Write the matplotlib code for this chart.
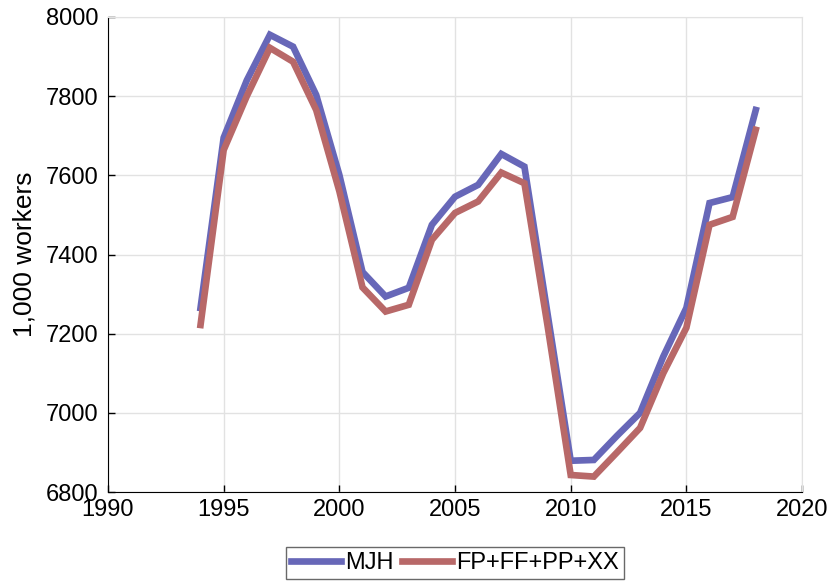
"""
Число работников по годам: MJH и FP+FF+PP+XX.
"""

import matplotlib.pyplot as plt

years = list(range(1994, 2019))
mjh = [7265, 7695, 7840, 7955, 7925, 7803, 7601, 7356, 7294, 7316,
       7475, 7546, 7576, 7654, 7622, 7250, 6879, 6881, 6942, 7000,
       7142, 7265, 7530, 7545, 7765]
fp_ff_pp_xx = [7222, 7664, 7800, 7922, 7887, 7765, 7560, 7317, 7256, 7273,
               7437, 7505, 7534, 7607, 7580, 7220, 6843, 6839, 6900, 6962,
               7100, 7215, 7475, 7495, 7715]

x_ticks = [1990, 1995, 2000, 2005, 2010, 2015, 2020]
y_ticks = [6800, 7000, 7200, 7400, 7600, 7800, 8000]

plt.rcParams['font.family'] = ['Liberation Sans', 'DejaVu Sans']

fig = plt.figure(figsize=(8.32, 5.82), dpi=100)
ax = fig.add_axes([0.1298, 0.1546, 0.8342, 0.8162])

ax.plot(years, mjh, color='#6767b8', linewidth=4.8, label='MJH',
        solid_joinstyle='miter')
ax.plot(years, fp_ff_pp_xx, color='#b86868', linewidth=4.8,
        label='FP+FF+PP+XX', solid_joinstyle='miter')

ax.set_xlim(1990, 2020)
ax.set_ylim(6800, 8000)
ax.set_xticks(x_ticks)
ax.set_yticks(y_ticks)
ax.set_ylabel('1,000 workers', fontsize=19)
ax.yaxis.set_label_coords(-0.103, 0.5)
ax.tick_params(direction='in', labelsize=17, length=5, width=1,
               colors='black')
ax.tick_params(axis='y', pad=7)
ax.tick_params(axis='x', pad=5)
ax.grid(True, color='#e2e2e2', linewidth=1)
ax.set_axisbelow(True)

for side in ['top', 'right']:
    ax.spines[side].set_color('#e2e2e2')
for side in ['left', 'bottom']:
    ax.spines[side].set_color('black')

# Легенда под графиком
leg = ax.legend(loc='center', bbox_to_anchor=(0.5, -0.149), ncol=2,
                fontsize=17, frameon=True, fancybox=False,
                handlelength=2.1, handletextpad=0.2, columnspacing=0.35,
                borderpad=0.2, borderaxespad=0)
leg.get_frame().set_edgecolor('#444444')
leg.get_frame().set_linewidth(1)

plt.savefig('out.png', dpi=100)
plt.close()
